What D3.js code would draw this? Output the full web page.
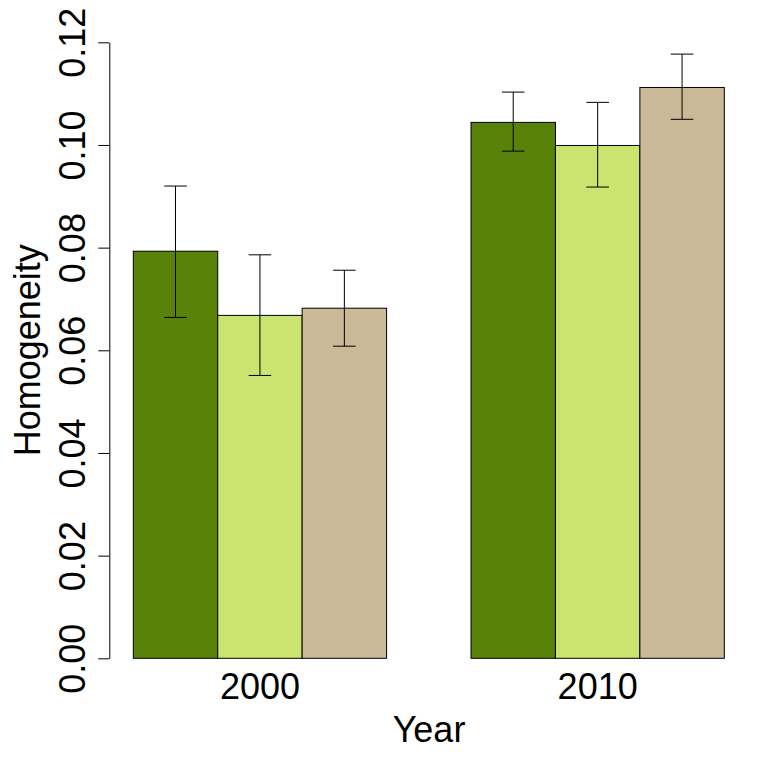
<!DOCTYPE html>
<html>
<head>
<meta charset="utf-8">
<script src="https://d3js.org/d3.v7.min.js"></script>
<style>
  body { margin: 0; background: #fff; }
  text { font-family: "Liberation Sans", Arial, Helvetica, sans-serif; }
</style>
<title>Homogeneity</title>
</head>
<body>
<script>
// ******** data ********
var years = ["2000", "2010"]
var series = ["s1", "s2", "s3"]
var seriesColors = ["#58820a", "#c9e46f", "#cbb897"]
var means = [[0.0793, 0.0668, 0.0682], [0.1044, 0.0999, 0.1112]]
var upper = [[0.0920, 0.0786, 0.0756], [0.1103, 0.1083, 0.1177]]
var lower = [[0.0664, 0.0551, 0.0608], [0.0988, 0.0918, 0.1050]]
var yTicks = [0, 0.02, 0.04, 0.06, 0.08, 0.10, 0.12]

var width = 767, height = 768

var svg = d3.select('body').append('svg')
  .attr('width', width)
  .attr('height', height)

// scales
var y = d3.scaleLinear().domain([0, 0.12]).range([658.3, 42.3])

// group band: 3 bars wide, 1 bar gap between groups
var x0 = d3.scaleBand().domain(years)
  .range([133.3, 724.3])
  .paddingInner(0.25)
  .paddingOuter(0)

var x1 = d3.scaleBand().domain(series)
  .range([0, x0.bandwidth()])

var color = d3.scaleOrdinal().domain(series).range(seriesColors)

// flatten for drawing
var rows = []
years.forEach(function(yr, gi) {
  series.forEach(function(s, si) {
    rows.push({year: yr, s: s, m: means[gi][si], hi: upper[gi][si], lo: lower[gi][si]})
  })
})

// bars
svg.append('g').selectAll('rect')
  .data(rows)
  .enter().append('rect')
  .attr('x', function(d) { return x0(d.year) + x1(d.s) })
  .attr('width', x1.bandwidth())
  .attr('y', function(d) { return y(d.m) })
  .attr('height', function(d) { return y(0) - y(d.m) })
  .style('fill', function(d) { return color(d.s) })
  .style('stroke', '#000')
  .style('stroke-width', 1)

// error bars
var capHalf = 11.3
var eb = svg.append('g').selectAll('g')
  .data(rows)
  .enter().append('g')
  .attr('transform', function(d) { return 'translate(' + (x0(d.year) + x1(d.s) + x1.bandwidth() / 2) + ',0)' })
  .style('stroke', '#000')
  .style('stroke-width', 1)

eb.append('line')
  .attr('x1', 0).attr('x2', 0)
  .attr('y1', function(d) { return y(d.lo) })
  .attr('y2', function(d) { return y(d.hi) })
eb.append('line')
  .attr('x1', -capHalf).attr('x2', capHalf)
  .attr('y1', function(d) { return y(d.hi) })
  .attr('y2', function(d) { return y(d.hi) })
eb.append('line')
  .attr('x1', -capHalf).attr('x2', capHalf)
  .attr('y1', function(d) { return y(d.lo) })
  .attr('y2', function(d) { return y(d.lo) })

// y axis
var yAxis = d3.axisLeft(y)
  .tickValues(yTicks)
  .tickFormat(d3.format('.2f'))
  .tickSize(11)
  .tickSizeOuter(0)

var gy = svg.append('g')
  .attr('transform', 'translate(109.3,0)')
  .call(yAxis)

gy.select('.domain').attr('stroke', '#000').attr('stroke-width', 1)
gy.selectAll('.tick line').attr('stroke', '#000').attr('stroke-width', 1)
gy.selectAll('.tick text')
  .attr('x', null).attr('dy', null)
  .attr('transform', 'translate(-24,0) rotate(-90)')
  .attr('text-anchor', 'middle')
  .attr('fill', '#000')
  .style('font-size', '36px')
  .style('font-family', '"Liberation Sans", Arial, sans-serif')

// x labels (no axis line, like R barplot)
svg.append('g').selectAll('text')
  .data(years)
  .enter().append('text')
  .attr('x', function(d) { return x0(d) + x0.bandwidth() / 2 })
  .attr('y', 699)
  .attr('text-anchor', 'middle')
  .style('font-size', '36px')
  .text(function(d) { return d })

// axis titles
svg.append('text')
  .attr('x', 429)
  .attr('y', 741.5)
  .attr('text-anchor', 'middle')
  .style('font-size', '36px')
  .text('Year')

svg.append('text')
  .attr('transform', 'translate(40,350.3) rotate(-90)')
  .attr('text-anchor', 'middle')
  .style('font-size', '36px')
  .text('Homogeneity')
</script>
</body>
</html>
